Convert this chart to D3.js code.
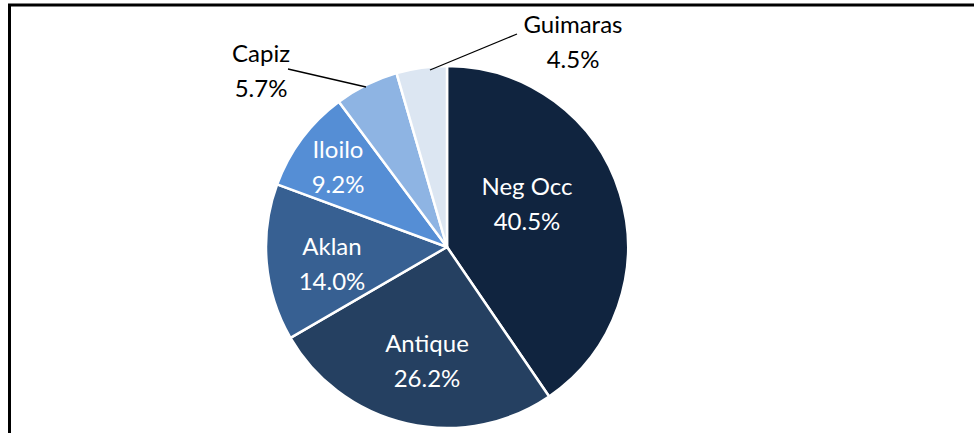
<!DOCTYPE html>
<html>
<head>
<meta charset="utf-8">
<script src="https://cdn.jsdelivr.net/npm/d3@7"></script>
<style>
  html, body { margin: 0; padding: 0; background: #fff; }
  svg { display: block; }
  text { font-family: Lato, "Open Sans", sans-serif; }
</style>
</head>
<body>
<svg id="chart" width="974" height="433"></svg>
<script>
// ---- data ----
const provinces = ["Neg Occ", "Antique", "Aklan", "Iloilo", "Capiz", "Guimaras"];
const shares = [40.5, 26.2, 14.0, 9.2, 5.7, 4.5];
const sliceColors = ["#10243F", "#254061", "#376092", "#558ED5", "#8EB4E3", "#DCE6F2"];

// ---- layout ----
const W = 974, H = 433;
const cx = 447, cy = 247, R = 181;
const fontSize = 24, lineGap = 35;

const svg = d3.select("#chart");

// frame (partially cropped chart box)
svg.append("path")
  .attr("d", `M9.5,${H} L9.5,5 L${W},5`)
  .attr("fill", "none")
  .attr("stroke", "#000")
  .attr("stroke-width", 3);

const data = provinces.map((p, i) => ({ name: p, value: shares[i], color: sliceColors[i] }));

const pie = d3.pie().sort(null).value(d => d.value);
const arcs = pie(data);
const arc = d3.arc().innerRadius(0).outerRadius(R);

const g = svg.append("g").attr("transform", `translate(${cx},${cy})`);

g.selectAll("path.slice")
  .data(arcs)
  .join("path")
  .attr("class", "slice")
  .attr("d", arc)
  .attr("fill", d => d.data.color)
  .attr("stroke", "#fff")
  .attr("stroke-width", 2.5)
  .attr("stroke-linejoin", "round");

const fmt = v => v.toFixed(1) + "%";

// label placement (offsets relative to pie centre, first-line baseline)
const inside = {
  "Neg Occ": { x: 80, y: -52 },
  "Antique": { x: -20, y: 105 },
  "Aklan": { x: -115, y: 8 },
  "Iloilo": { x: -109, y: -89 }
};
const outside = {
  "Capiz": { x: -186, y: -185, anchor: "middle", line: [[-159, -178], [-81, -160]] },
  "Guimaras": { x: 126, y: -214, anchor: "middle", line: [[70, -213], [-17, -177]] }
};

arcs.forEach(a => {
  const n = a.data.name;
  if (inside[n]) {
    const p = inside[n];
    const t = g.append("text")
      .attr("text-anchor", "middle")
      .attr("fill", "#fff")
      .attr("font-size", fontSize);
    t.append("tspan").attr("x", p.x).attr("y", p.y).text(n);
    t.append("tspan").attr("x", p.x).attr("y", p.y + lineGap).text(fmt(a.data.value));
  } else if (outside[n]) {
    const p = outside[n];
    g.append("path")
      .attr("d", d3.line()(p.line))
      .attr("fill", "none")
      .attr("stroke", "#000")
      .attr("stroke-width", 1.3);
    const t = g.append("text")
      .attr("text-anchor", p.anchor)
      .attr("fill", "#000")
      .attr("font-size", fontSize);
    t.append("tspan").attr("x", p.x).attr("y", p.y).text(n);
    t.append("tspan").attr("x", p.x).attr("y", p.y + lineGap).text(fmt(a.data.value));
  }
});
</script>
</body>
</html>
